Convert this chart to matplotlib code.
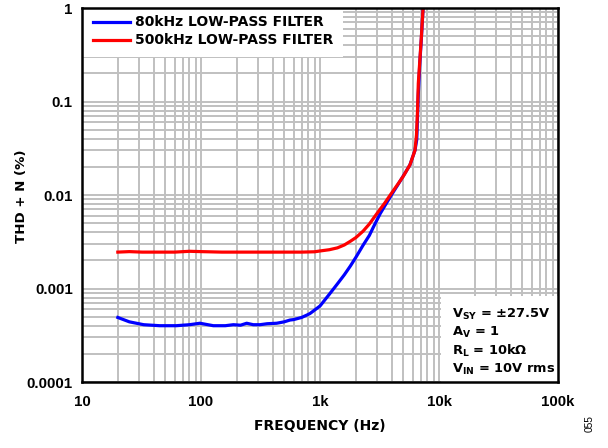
import matplotlib
matplotlib.use("Agg")
import matplotlib.pyplot as plt
from matplotlib.patches import Rectangle
from matplotlib.ticker import FixedLocator, LogLocator, NullFormatter, FixedFormatter

plt.rcParams['font.family'] = ['DejaVu Sans']
plt.rcParams['font.weight'] = 'bold'
plt.rcParams['mathtext.fontset'] = 'dejavusans'

# 80kHz low-pass filter
freq_80k = [20, 25, 33, 45, 62, 80, 98, 127, 160, 187, 215, 242, 275, 313, 360, 432,
            500, 560, 600, 700, 776, 824, 920, 1000, 1200, 1400, 1600, 1800, 2000,
            2300, 2600, 2800, 3200, 3600, 4000, 4500, 5177, 5700, 6280, 6500, 6700,
            6900, 7100, 7350]
thd_80k = [0.00049, 0.00044, 0.00041, 0.00040, 0.00040, 0.00041, 0.000425, 0.00040,
           0.00040, 0.00041, 0.000405, 0.000425, 0.00041, 0.00041, 0.00042, 0.000425,
           0.00044, 0.00046, 0.000465, 0.00049, 0.00052, 0.00054, 0.0006, 0.00065,
           0.00087, 0.00112, 0.0014, 0.00174, 0.00215, 0.0029, 0.0037, 0.0045,
           0.0063, 0.0081, 0.0101, 0.0128, 0.0171, 0.021, 0.030, 0.039, 0.12, 0.26,
           0.46, 1.0]

# 500kHz low-pass filter
freq_500k = [20, 25, 32, 45, 60, 80, 100, 150, 200, 300, 500, 700, 900, 1000, 1200,
             1400, 1600, 1800, 2000, 2300, 2600, 3000, 3500, 4000, 4500, 5000, 5700,
             6280, 6470, 6600, 6700, 6900, 7100, 7350]
thd_500k = [0.00245, 0.00248, 0.00245, 0.00245, 0.00245, 0.0025, 0.00248, 0.00245,
            0.00245, 0.00245, 0.00245, 0.00245, 0.00247, 0.00252, 0.0026, 0.00272,
            0.00292, 0.0032, 0.0035, 0.0041, 0.0049, 0.0063, 0.0082, 0.0105, 0.0130,
            0.0158, 0.021, 0.030, 0.044, 0.08, 0.156, 0.274, 0.478, 1.0]

xticks = [10, 100, 1000, 10000, 100000]
xticklabels = ['10', '100', '1k', '10k', '100k']
yticks = [0.0001, 0.001, 0.01, 0.1, 1]
yticklabels = ['0.0001', '0.001', '0.01', '0.1', '1']

W, H = 608, 448
fig = plt.figure(figsize=(W / 100, H / 100), dpi=100)
ax = fig.add_axes([82 / W, 1 - 382 / H, (558 - 82) / W, (382 - 8) / H])
ax.set_xscale('log')
ax.set_yscale('log')
ax.set_xlim(10, 100000)
ax.set_ylim(0.0001, 1)

ax.xaxis.set_major_locator(FixedLocator(xticks))
ax.xaxis.set_major_formatter(FixedFormatter(xticklabels))
ax.yaxis.set_major_locator(FixedLocator(yticks))
ax.yaxis.set_major_formatter(FixedFormatter(yticklabels))
ax.xaxis.set_minor_locator(LogLocator(base=10, subs=range(2, 10)))
ax.yaxis.set_minor_locator(LogLocator(base=10, subs=range(2, 10)))
ax.xaxis.set_minor_formatter(NullFormatter())
ax.yaxis.set_minor_formatter(NullFormatter())

ax.grid(True, which='both', color='#c0c0c0', linewidth=1.4, zorder=0)
ax.tick_params(which='both', length=0)
ax.tick_params(axis='x', pad=9.5)
ax.tick_params(axis='y', pad=6.7)
for lab in ax.get_xticklabels() + ax.get_yticklabels():
    lab.set_fontfamily(['Liberation Sans', 'DejaVu Sans'])
    lab.set_fontweight('bold')
    lab.set_fontsize(10.8)
for s in ax.spines.values():
    s.set_linewidth(1.8)
    s.set_color('black')
    s.set_zorder(10)

ax.plot(freq_80k, thd_80k, color='#0000ff', linewidth=2.3, zorder=3,
        label='80kHz LOW-PASS FILTER')
ax.plot(freq_500k, thd_500k, color='#ff0000', linewidth=2.3, zorder=4,
        label='500kHz LOW-PASS FILTER')

# legend background
ax.add_patch(Rectangle((82 / W, 1 - 57 / H), (343 - 82) / W, (57 - 8) / H,
                       transform=fig.transFigure, facecolor='white',
                       edgecolor='none', zorder=5))
leg = ax.legend(loc='upper left', bbox_to_anchor=(93 / W, 1 - 15.5 / H),
                bbox_transform=fig.transFigure, frameon=False,
                borderaxespad=0.0, borderpad=0.0,
                handlelength=2.64, handletextpad=0.36, labelspacing=0.28,
                prop={'weight': 'bold', 'size': 10})
leg.set_zorder(6)

# condition box
ax.add_patch(Rectangle((441 / W, 1 - 382 / H), (558 - 441) / W, (382 - 296) / H,
                       transform=fig.transFigure, facecolor='white',
                       edgecolor='none', zorder=6))
cond_lines = ['V$_{\\mathbf{SY}}$ = ±27.5V', 'A$_{\\mathbf{V}}$ = 1',
              'R$_{\\mathbf{L}}$ = 10kΩ', 'V$_{\\mathbf{IN}}$ = 10V rms']
for i, line in enumerate(cond_lines):
    fig.text(452 / W, 1 - (318 + i * 18.3) / H, line, fontsize=9.4,
             fontweight='bold', ha='left', va='baseline', zorder=7)

fig.text(320 / W, 1 - 425.5 / H, 'FREQUENCY (Hz)', fontsize=10, fontweight='bold',
         ha='center', va='center')
fig.text(22 / W, 1 - 196 / H, 'THD + N (%)', fontsize=9.6, fontweight='bold',
         ha='center', va='center', rotation=90)

fig.text(590 / W, 1 - 423.5 / H, '055', rotation=90, fontsize=7.3,
         fontweight='normal', family=['Liberation Sans', 'DejaVu Sans'],
         ha='center', va='center')

fig.savefig('out.png', dpi=100)
